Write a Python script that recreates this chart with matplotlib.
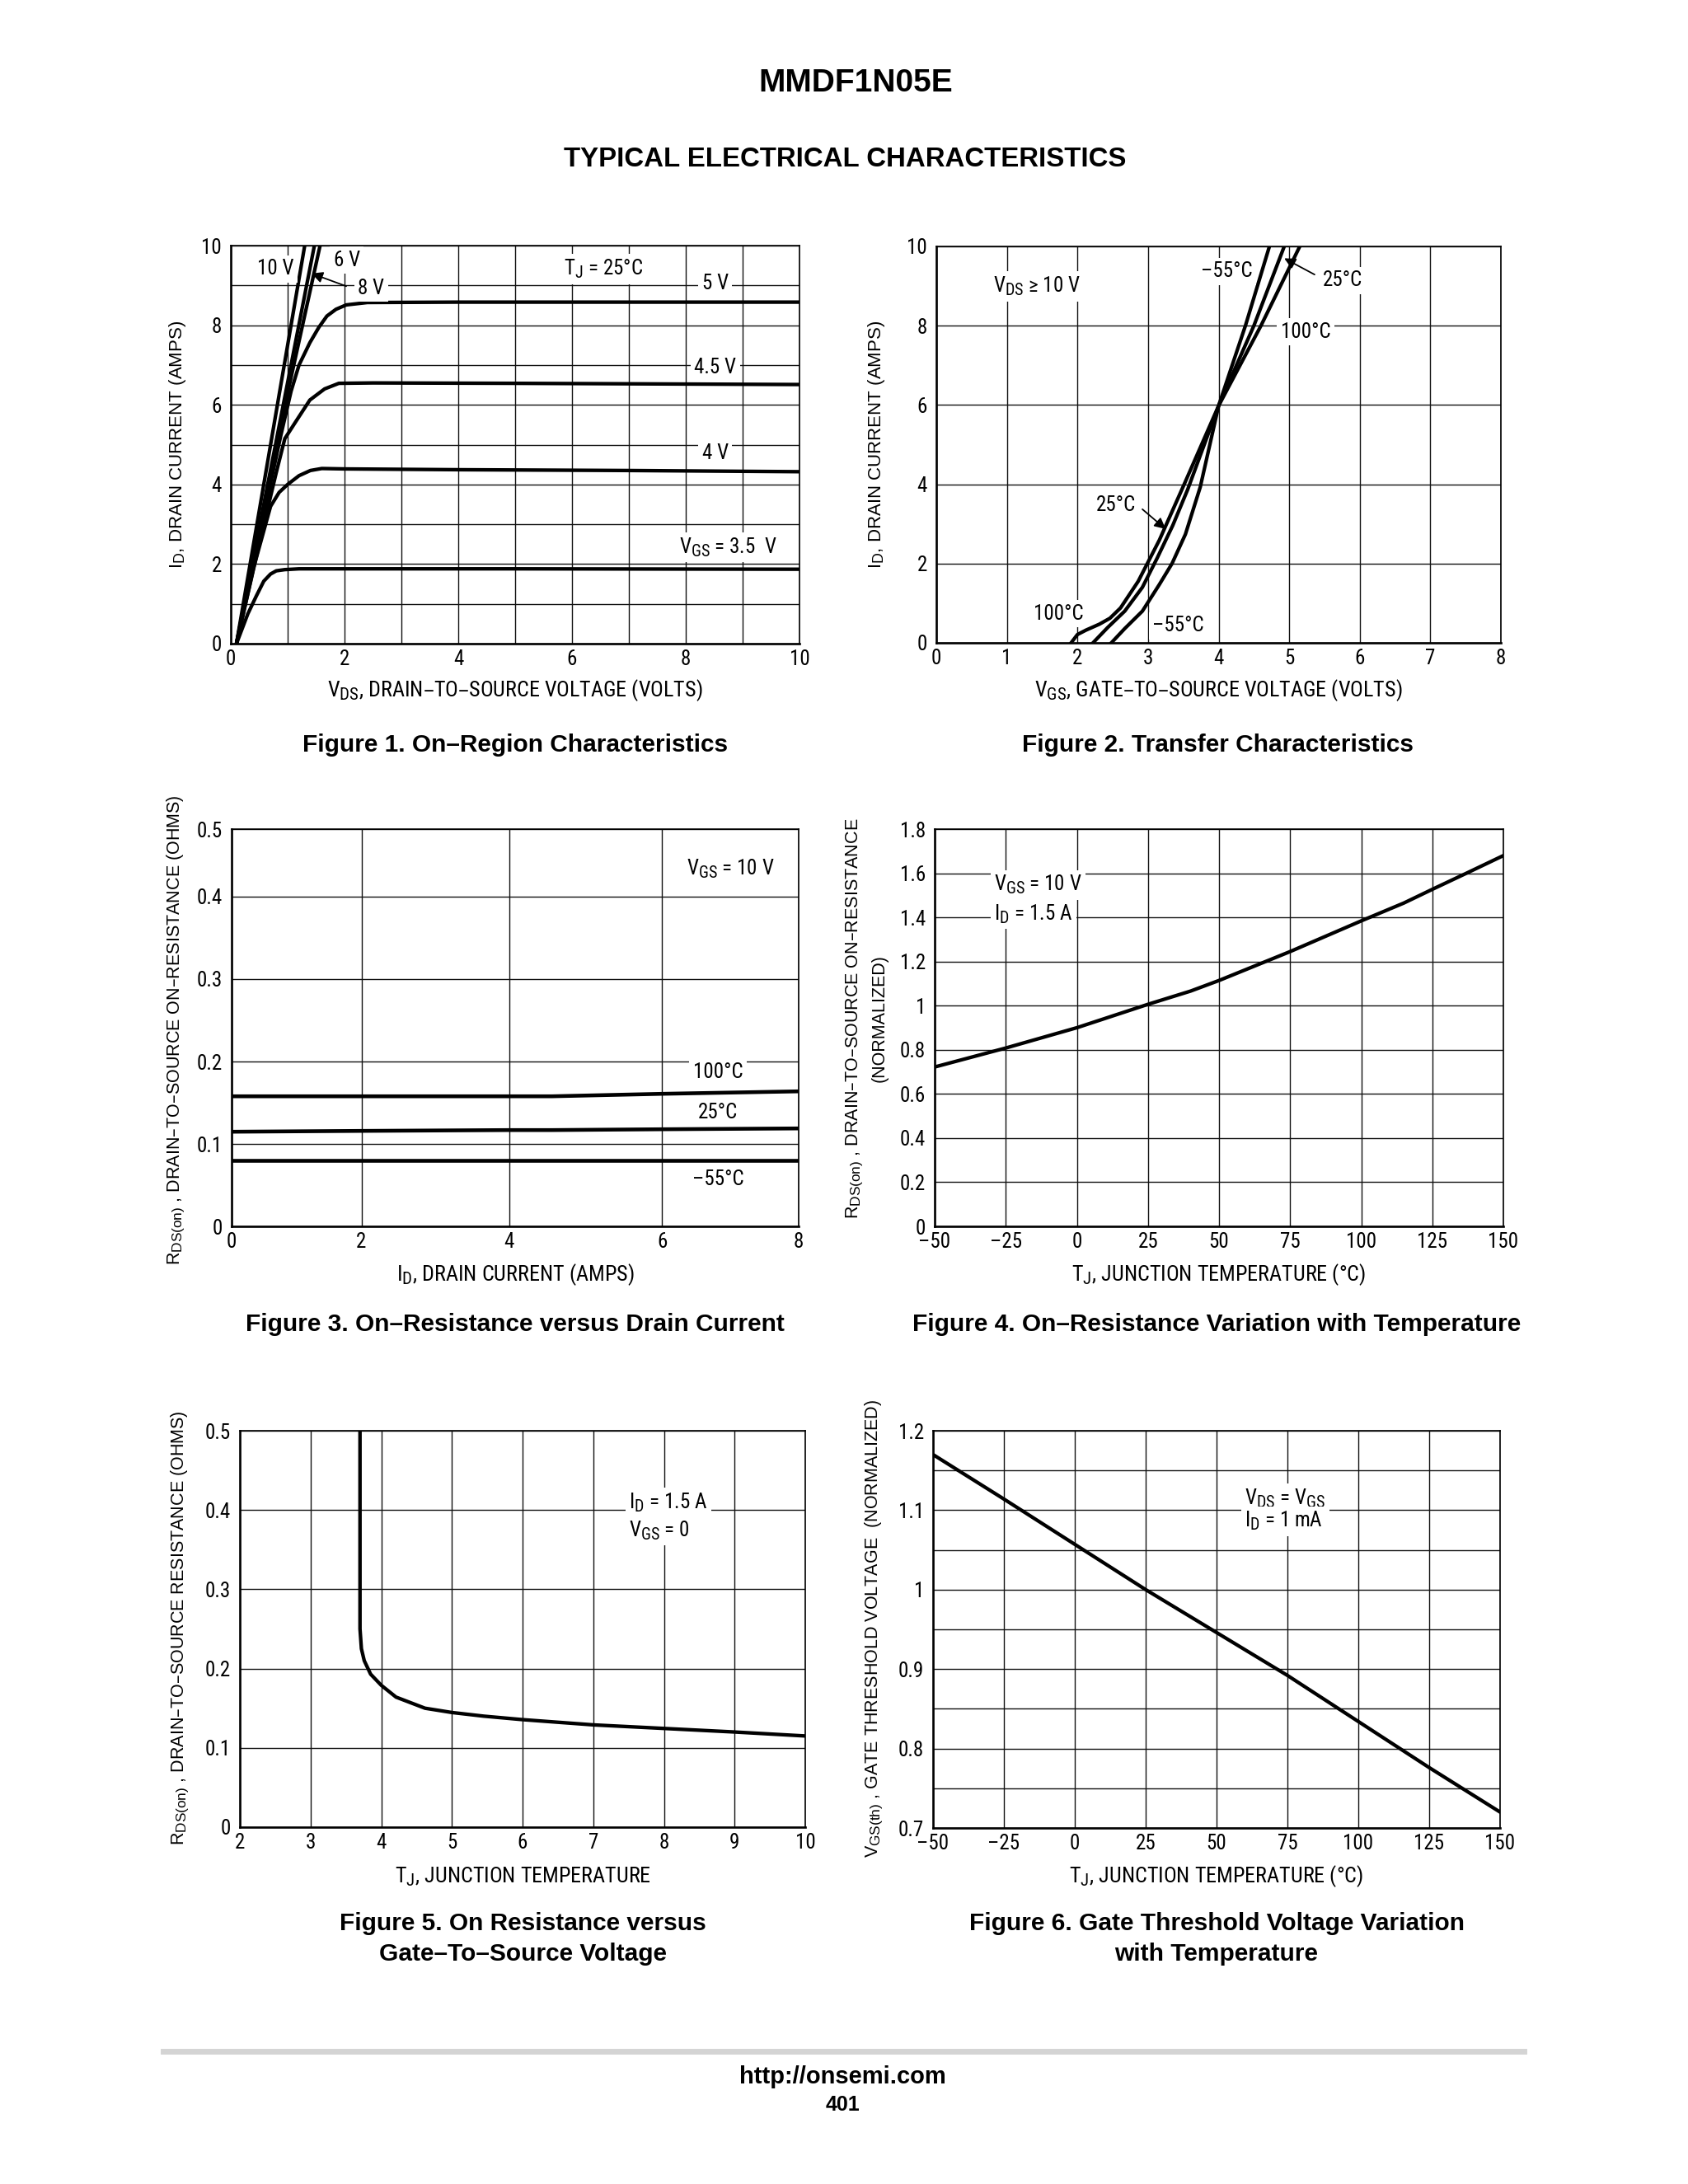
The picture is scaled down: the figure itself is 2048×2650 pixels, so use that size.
import numpy as np
import matplotlib
matplotlib.use("Agg")
import matplotlib.pyplot as plt
from matplotlib.ticker import FixedLocator, NullFormatter

try:  # datasheet subscripts are larger than matplotlib's default 0.7 scale
    import matplotlib._mathtext as _mt
    _mt.SHRINK_FACTOR = 0.8
except Exception:
    pass

# ---------------- data ----------------
# Figure 1: On-region characteristics (VDS [V] -> ID [A])
vds_35 = [0.1, 0.3, 0.45, 0.58, 0.7, 0.8, 0.95, 1.2, 2.0, 5.0, 10.0]
id_35 = [0, 0.75, 1.2, 1.57, 1.75, 1.83, 1.86, 1.88, 1.88, 1.88, 1.87]
vds_40 = [0.1, 0.4, 0.7, 0.85, 1.0, 1.2, 1.4, 1.6, 2.0, 4.0, 7.0, 10.0]
id_40 = [0, 1.9, 3.45, 3.8, 4.0, 4.22, 4.35, 4.4, 4.39, 4.37, 4.35, 4.32]
vds_45 = [0.1, 0.5, 0.8, 0.95, 1.13, 1.39, 1.65, 1.9, 2.5, 5.0, 10.0]
id_45 = [0, 2.5, 4.3, 5.15, 5.55, 6.12, 6.4, 6.54, 6.55, 6.54, 6.51]
vds_50 = [0.1, 0.5, 0.875, 1.06, 1.2, 1.39, 1.55, 1.69, 1.85, 2.03, 2.4, 4.0, 10.0]
id_50 = [0, 2.7, 5.2, 6.34, 7.0, 7.56, 7.95, 8.23, 8.4, 8.51, 8.57, 8.58, 8.58]
vds_60 = [0.1, 0.8, 1.57]
id_60 = [0, 5.0, 10.0]
vds_80 = [0.1, 0.8, 1.47]
id_80 = [0, 5.1, 10.0]
vds_100 = [0.1, 0.7, 1.30]
id_100 = [0, 5.0, 10.0]

# Figure 2: Transfer characteristics (VGS [V] -> ID [A])
vgs_t100 = [1.91, 2.0, 2.12, 2.31, 2.46, 2.61, 2.86, 3.16, 3.5, 4.0, 4.6, 5.15]
id_t100 = [0, 0.21, 0.32, 0.47, 0.62, 0.88, 1.55, 2.59, 3.95, 5.98, 8.0, 10.0]
vgs_t25 = [2.22, 2.43, 2.67, 2.92, 3.13, 3.35, 3.56, 4.0, 4.5, 4.93]
id_t25 = [0, 0.39, 0.8, 1.4, 2.14, 2.96, 3.86, 5.98, 8.0, 10.0]
vgs_tm55 = [2.48, 2.67, 2.92, 3.16, 3.34, 3.53, 3.74, 4.0, 4.38, 4.72]
id_tm55 = [0, 0.36, 0.8, 1.47, 2.0, 2.74, 3.93, 5.98, 8.0, 10.0]

# Figure 3: On-resistance vs drain current (ID [A] -> RDS(on) [ohm])
id3 = [0, 2, 4, 4.56, 6, 8]
r3_100 = [0.158, 0.158, 0.158, 0.158, 0.161, 0.164]
r3_25 = [0.115, 0.116, 0.117, 0.117, 0.118, 0.119]
r3_m55 = [0.080, 0.080, 0.080, 0.080, 0.080, 0.080]

# Figure 4: On-resistance vs temperature (TJ [C] -> normalized)
tj4 = [-50, -25, 0, 25, 40, 50, 75, 100, 115, 125, 137, 150]
r4 = [0.722, 0.808, 0.9, 1.006, 1.066, 1.114, 1.245, 1.384, 1.465, 1.527, 1.6, 1.68]

# Figure 5: On resistance vs gate-to-source voltage
vgs5 = [3.70, 3.70, 3.72, 3.76, 3.85, 4.0, 4.21, 4.62, 5.0, 5.45, 6.0, 7.0, 8.0, 9.0, 10.0]
r5 = [0.5, 0.25, 0.225, 0.21, 0.193, 0.179, 0.164, 0.15, 0.1446, 0.14, 0.1356, 0.129, 0.1245, 0.12, 0.115]

# Figure 6: Gate threshold voltage vs temperature
tj6 = [-50, -25, 0, 25, 50, 75, 100, 125, 150]
v6 = [1.17, 1.114, 1.057, 1.0, 0.946, 0.892, 0.834, 0.776, 0.72]

# tick labels
ticks_f1 = [0, 2, 4, 6, 8, 10]
ticks_f2x = [0, 1, 2, 3, 4, 5, 6, 7, 8]
ticks_f3x = [0, 2, 4, 6, 8]
ticks_ohm = [0, 0.1, 0.2, 0.3, 0.4, 0.5]
ticks_temp = [-50, -25, 0, 25, 50, 75, 100, 125, 150]
ticks_f4y = [0, 0.2, 0.4, 0.6, 0.8, 1.0, 1.2, 1.4, 1.6, 1.8]
ticks_f5x = [2, 3, 4, 5, 6, 7, 8, 9, 10]
ticks_f6y = [0.7, 0.8, 0.9, 1.0, 1.1, 1.2]

# ---------------- styling ----------------
COND = ['Roboto Condensed', 'PT Sans Narrow', 'IBM Plex Sans Condensed',
        'Liberation Sans', 'DejaVu Sans']
REG = ['Liberation Sans', 'DejaVu Sans']
plt.rcParams['font.family'] = COND
plt.rcParams['axes.unicode_minus'] = False

W, H = 2048, 2650
fig = plt.figure(figsize=(W / 100, H / 100), dpi=100)

TICK_FS = 18
LAB_FS = 18.8
ANN_FS = 18
CURVE_LW = 3.1
GRID_LW = 1.0
YLAB_FS = 15.5


def rect(l, r, t, b):
    return [l / W, 1 - b / H, (r - l) / W, (b - t) / H]


def fx(px):
    return px / W


def fy(py):
    return 1 - py / H


def fmt(v):
    s = ('%g' % v)
    return s.replace('-', '–')


def style_axes(ax):
    for s in ['left', 'bottom']:
        ax.spines[s].set_linewidth(1.9)
    for s in ['top', 'right']:
        ax.spines[s].set_linewidth(1.2)
    ax.tick_params(axis='both', which='both', length=0, labelsize=TICK_FS)
    ax.tick_params(axis='y', pad=8)
    ax.tick_params(axis='x', pad=5)
    ax.grid(True, which='both', color='#111111', linewidth=GRID_LW)
    ax.set_axisbelow(True)
    for lab in ax.get_xticklabels() + ax.get_yticklabels():
        lab.set_family(COND)


BOX = dict(boxstyle='square,pad=0.18', facecolor='white', edgecolor='none')


def note(ax, x, y, s, ha='center', box=True, transform=None):
    kw = dict(ha=ha, va='center', fontsize=ANN_FS, family=COND, zorder=4)
    if box:
        kw['bbox'] = BOX
    if transform is not None:
        kw['transform'] = transform
    ax.text(x, y, s, **kw)


ARROW = dict(arrowstyle='-|>', color='black', lw=1.3, mutation_scale=20,
             shrinkA=0, shrinkB=0)

# ---------------- titles ----------------
fig.text(fx(1038), fy(101), 'MMDF1N05E', ha='center', va='center',
         fontsize=28, fontweight='bold', family=REG)
fig.text(fx(1025), fy(194), 'TYPICAL ELECTRICAL CHARACTERISTICS', ha='center',
         va='center', fontsize=23.8, fontweight='bold', family=REG)

# ---------------- Figure 1 ----------------
ax1 = fig.add_axes(rect(280, 970, 298, 781))
for xs, ys in [(vds_35, id_35), (vds_40, id_40), (vds_45, id_45), (vds_50, id_50),
               (vds_60, id_60), (vds_80, id_80), (vds_100, id_100)]:
    ax1.plot(xs, ys, color='black', lw=CURVE_LW, solid_capstyle='butt', zorder=3)
ax1.set_xlim(0, 10)
ax1.set_ylim(0, 10)
ax1.xaxis.set_major_locator(FixedLocator(ticks_f1))
ax1.yaxis.set_major_locator(FixedLocator(ticks_f1))
ax1.xaxis.set_minor_locator(FixedLocator([1, 3, 5, 7, 9]))
ax1.yaxis.set_minor_locator(FixedLocator([1, 3, 5, 7, 9]))
ax1.set_xticklabels([fmt(v) for v in ticks_f1])
ax1.set_yticklabels([fmt(v) for v in ticks_f1])
style_axes(ax1)
note(ax1, 0.79, 9.41, '10 V')
note(ax1, 2.04, 9.63, '6 V')
note(ax1, 2.47, 8.93, '8 V')
ax1.annotate('', xy=(1.42, 9.3), xytext=(2.03, 8.98), arrowprops=ARROW, zorder=5)
note(ax1, 6.55, 9.41, r'$\mathregular{T_J}$ = 25°C')
note(ax1, 8.52, 9.04, '5 V')
note(ax1, 8.52, 6.93, '4.5 V')
note(ax1, 8.52, 4.79, '4 V')
note(ax1, 8.74, 2.42, r'$\mathregular{V_{GS}}$ = 3.5  V')
fig.text(fx(625), fy(838), r'$\mathregular{V_{DS}}$, DRAIN–TO–SOURCE VOLTAGE (VOLTS)',
         ha='center', va='center', fontsize=LAB_FS, family=COND)
fig.text(fx(216), fy(539), r'$\mathregular{I_D}$, DRAIN CURRENT (AMPS)', rotation=90,
         ha='center', va='center', fontsize=16, family=REG)
fig.text(fx(625), fy(904), 'Figure 1. On–Region Characteristics', ha='center',
         va='center', fontsize=21.5, fontweight='bold', family=REG)

# ---------------- Figure 2 ----------------
ax2 = fig.add_axes(rect(1136, 1821, 299, 780))
for xs, ys in [(vgs_t100, id_t100), (vgs_t25, id_t25), (vgs_tm55, id_tm55)]:
    ax2.plot(xs, ys, color='black', lw=CURVE_LW, zorder=3)
ax2.set_xlim(0, 8)
ax2.set_ylim(0, 10)
ax2.xaxis.set_major_locator(FixedLocator(ticks_f2x))
ax2.yaxis.set_major_locator(FixedLocator(ticks_f1))
ax2.set_xticklabels([fmt(v) for v in ticks_f2x])
ax2.set_yticklabels([fmt(v) for v in ticks_f1])
style_axes(ax2)
note(ax2, 1.42, 8.99, r'$\mathregular{V_{DS}}$ ≥ 10 V')
note(ax2, 4.11, 9.37, '–55°C')
note(ax2, 5.76, 9.14, '25°C')
ax2.annotate('', xy=(4.93, 9.7), xytext=(5.36, 9.29), arrowprops=ARROW, zorder=5)
note(ax2, 5.23, 7.84, '100°C')
note(ax2, 2.55, 3.48, '25°C')
ax2.annotate('', xy=(3.25, 2.87), xytext=(2.92, 3.37), arrowprops=ARROW, zorder=5)
note(ax2, 1.73, 0.73, '100°C')
note(ax2, 3.43, 0.43, '–55°C')
fig.text(fx(1478), fy(838), r'$\mathregular{V_{GS}}$, GATE–TO–SOURCE VOLTAGE (VOLTS)',
         ha='center', va='center', fontsize=LAB_FS, family=COND)
fig.text(fx(1063), fy(539), r'$\mathregular{I_D}$, DRAIN CURRENT (AMPS)', rotation=90,
         ha='center', va='center', fontsize=16, family=REG)
fig.text(fx(1478), fy(904), 'Figure 2. Transfer Characteristics', ha='center',
         va='center', fontsize=21.5, fontweight='bold', family=REG)

# ---------------- Figure 3 (original drawing has uneven grid spacing) ----------------
GX_VAL = [-8, 0, 2, 4, 6, 8, 16]
GX_POS = [-8, 0, 1.832, 3.914, 6.073, 8, 16]
GY_VAL = [-0.5, 0, 0.1, 0.2, 0.3, 0.4, 0.5, 1.0]
GY_POS = [-0.5, 0, 0.0998, 0.1998, 0.3005, 0.4005, 0.482, 0.982]


def f3x(v):
    return np.interp(v, GX_VAL, GX_POS)


def i3x(v):
    return np.interp(v, GX_POS, GX_VAL)


def f3y(v):
    return np.interp(v, GY_VAL, GY_POS)


def i3y(v):
    return np.interp(v, GY_POS, GY_VAL)


ax3 = fig.add_axes(rect(281, 969, 1006, 1488))
ax3.set_xscale('function', functions=(f3x, i3x))
ax3.set_yscale('function', functions=(f3y, i3y))
for ys in [r3_100, r3_25, r3_m55]:
    ax3.plot(id3, ys, color='black', lw=3.3, zorder=3)
ax3.set_xlim(0, 8)
ax3.set_ylim(0, 0.5)
ax3.xaxis.set_major_locator(FixedLocator(ticks_f3x))
ax3.yaxis.set_major_locator(FixedLocator(ticks_ohm))
ax3.xaxis.set_minor_locator(FixedLocator([]))
ax3.yaxis.set_minor_locator(FixedLocator([]))
ax3.xaxis.set_minor_formatter(NullFormatter())
ax3.yaxis.set_minor_formatter(NullFormatter())
ax3.set_xticklabels([fmt(v) for v in ticks_f3x])
ax3.set_yticklabels([fmt(v) for v in ticks_ohm])
style_axes(ax3)
note(ax3, 0.88, 0.899, r'$\mathregular{V_{GS}}$ = 10 V', transform=ax3.transAxes)
note(ax3, 0.858, 0.387, '100°C', transform=ax3.transAxes)
note(ax3, 0.858, 0.286, '25°C', transform=ax3.transAxes)
note(ax3, 0.858, 0.119, '–55°C', transform=ax3.transAxes)
fig.text(fx(625), fy(1547), r'$\mathregular{I_D}$, DRAIN CURRENT (AMPS)',
         ha='center', va='center', fontsize=LAB_FS, family=COND)
fig.text(fx(213), fy(1250),
         r'$\mathregular{R_{DS(on)}}$ , DRAIN–TO–SOURCE ON–RESISTANCE (OHMS)',
         rotation=90, ha='center', va='center', fontsize=YLAB_FS, family=REG)
fig.text(fx(625), fy(1607), 'Figure 3. On–Resistance versus Drain Current', ha='center',
         va='center', fontsize=21.5, fontweight='bold', family=REG)

# ---------------- Figure 4 ----------------
ax4 = fig.add_axes(rect(1134, 1824, 1006, 1488))
ax4.plot(tj4, r4, color='black', lw=CURVE_LW, zorder=3)
ax4.set_xlim(-50, 150)
ax4.set_ylim(0, 1.8)
ax4.xaxis.set_major_locator(FixedLocator(ticks_temp))
ax4.yaxis.set_major_locator(FixedLocator(ticks_f4y))
ax4.set_xticklabels([fmt(v) for v in ticks_temp])
ax4.set_yticklabels([fmt(v) for v in ticks_f4y])
style_axes(ax4)
note(ax4, -29.1, 1.547, r'$\mathregular{V_{GS}}$ = 10 V', ha='left')
note(ax4, -29.1, 1.414, r'$\mathregular{I_D}$ = 1.5 A', ha='left')
fig.text(fx(1479), fy(1547), r'$\mathregular{T_J}$, JUNCTION TEMPERATURE (°C)',
         ha='center', va='center', fontsize=LAB_FS, family=COND)
fig.text(fx(1037), fy(1236),
         r'$\mathregular{R_{DS(on)}}$ , DRAIN–TO–SOURCE ON–RESISTANCE',
         rotation=90, ha='center', va='center', fontsize=YLAB_FS, family=REG)
fig.text(fx(1067), fy(1236), '(NORMALIZED)', rotation=90, ha='center', va='center',
         fontsize=YLAB_FS, family=REG)
fig.text(fx(1476), fy(1607), 'Figure 4. On–Resistance Variation with Temperature',
         ha='center', va='center', fontsize=21.5, fontweight='bold', family=REG)

# ---------------- Figure 5 ----------------
ax5 = fig.add_axes(rect(291, 977, 1736, 2217))
ax5.plot(vgs5, r5, color='black', lw=CURVE_LW, zorder=3)
ax5.set_xlim(2, 10)
ax5.set_ylim(0, 0.5)
ax5.xaxis.set_major_locator(FixedLocator(ticks_f5x))
ax5.yaxis.set_major_locator(FixedLocator(ticks_ohm))
ax5.set_xticklabels([fmt(v) for v in ticks_f5x])
ax5.set_yticklabels([fmt(v) for v in ticks_ohm])
style_axes(ax5)
note(ax5, 7.51, 0.409, r'$\mathregular{I_D}$ = 1.5 A', ha='left')
note(ax5, 7.51, 0.374, r'$\mathregular{V_{GS}}$ = 0', ha='left')
fig.text(fx(634), fy(2277), r'$\mathregular{T_J}$, JUNCTION TEMPERATURE',
         ha='center', va='center', fontsize=LAB_FS, family=COND)
fig.text(fx(218), fy(1975),
         r'$\mathregular{R_{DS(on)}}$ , DRAIN–TO–SOURCE RESISTANCE (OHMS)',
         rotation=90, ha='center', va='center', fontsize=YLAB_FS, family=REG)
fig.text(fx(634), fy(2334), 'Figure 5. On Resistance versus', ha='center', va='center',
         fontsize=21.5, fontweight='bold', family=REG)
fig.text(fx(634), fy(2371), 'Gate–To–Source Voltage', ha='center', va='center',
         fontsize=21.5, fontweight='bold', family=REG)

# ---------------- Figure 6 ----------------
ax6 = fig.add_axes(rect(1132, 1820, 1736, 2218))
ax6.plot(tj6, v6, color='black', lw=CURVE_LW, zorder=3)
ax6.set_xlim(-50, 150)
ax6.set_ylim(0.7, 1.2)
ax6.xaxis.set_major_locator(FixedLocator(ticks_temp))
ax6.yaxis.set_major_locator(FixedLocator(ticks_f6y))
ax6.yaxis.set_minor_locator(FixedLocator([0.75, 0.85, 0.95, 1.05, 1.15]))
ax6.set_xticklabels([fmt(v) for v in ticks_temp])
ax6.set_yticklabels([fmt(v) for v in ticks_f6y])
style_axes(ax6)
note(ax6, 59.9, 1.115, r'$\mathregular{V_{DS}}$ = $\mathregular{V_{GS}}$', ha='left')
note(ax6, 59.9, 1.086, r'$\mathregular{I_D}$ = 1 mA', ha='left')
fig.text(fx(1476), fy(2277), r'$\mathregular{T_J}$, JUNCTION TEMPERATURE (°C)',
         ha='center', va='center', fontsize=LAB_FS, family=COND)
fig.text(fx(1060), fy(1976),
         r'$\mathregular{V_{GS(th)}}$ , GATE THRESHOLD VOLTAGE  (NORMALIZED)',
         rotation=90, ha='center', va='center', fontsize=YLAB_FS, family=REG)
fig.text(fx(1476), fy(2334), 'Figure 6. Gate Threshold Voltage Variation', ha='center',
         va='center', fontsize=21.5, fontweight='bold', family=REG)
fig.text(fx(1476), fy(2371), 'with Temperature', ha='center', va='center',
         fontsize=21.5, fontweight='bold', family=REG)

# ---------------- footer ----------------
fig.add_artist(plt.Line2D([fx(198), fx(1849)], [fy(2489), fy(2489)], color='#d4d4d4',
                          lw=5, transform=fig.transFigure))
fig.text(fx(1022), fy(2520), 'http://onsemi.com', ha='center', va='center',
         fontsize=21, fontweight='bold', family=REG)
fig.text(fx(1022), fy(2554), '401', ha='center', va='center',
         fontsize=18, fontweight='bold', family=REG)

fig.savefig('out.png', dpi=100, facecolor='white')
